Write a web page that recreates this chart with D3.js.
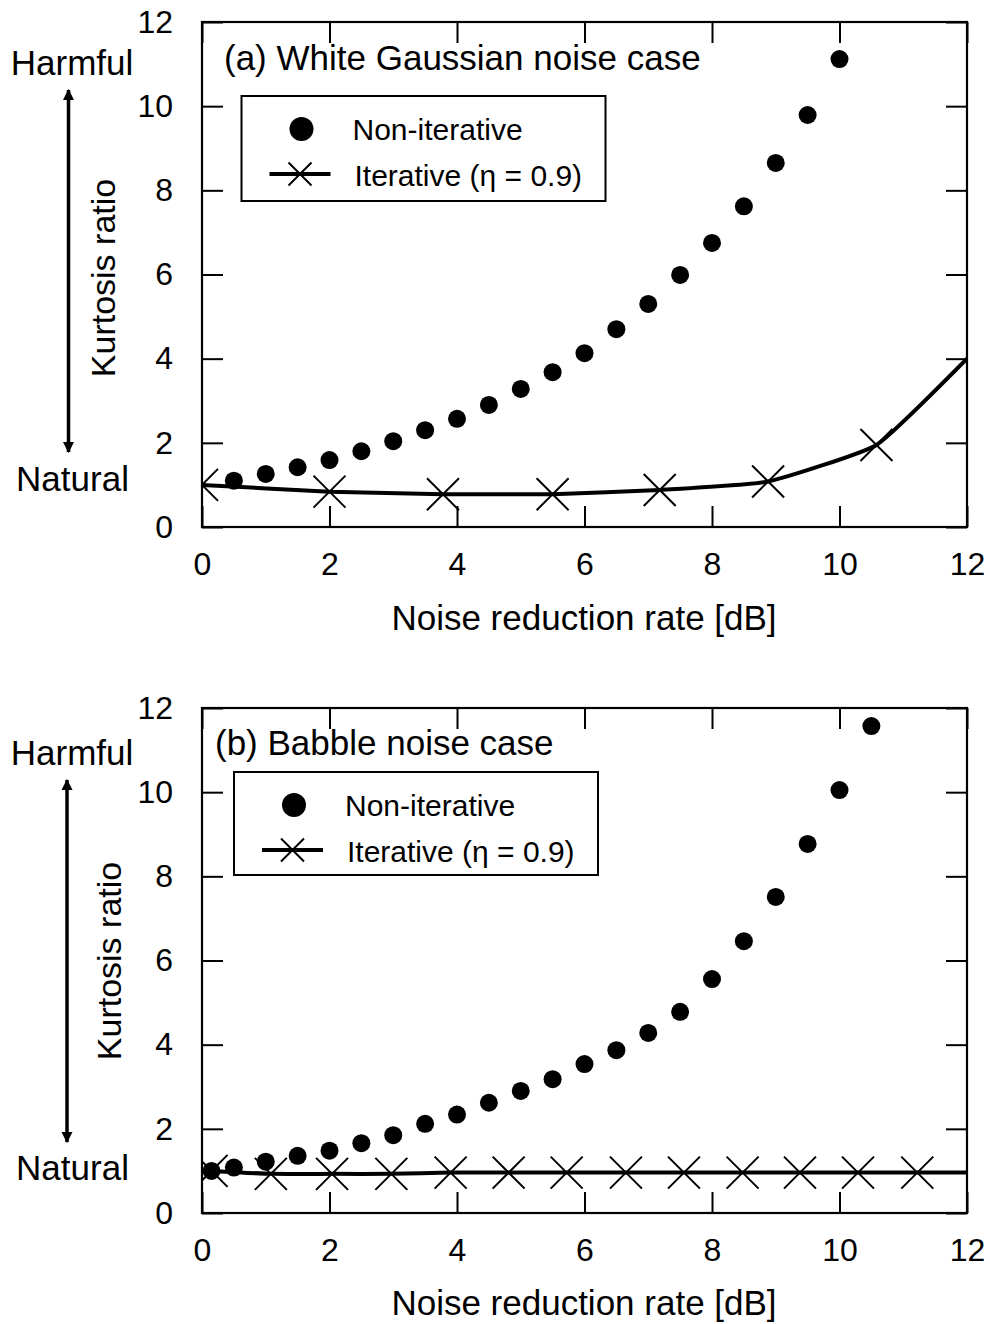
<!DOCTYPE html>
<html>
<head>
<meta charset="utf-8">
<script src="https://cdn.jsdelivr.net/npm/d3@7"></script>
<style>
  html, body { margin: 0; padding: 0; background: #fff; }
  svg text { font-family: "Liberation Sans", Arial, Helvetica, sans-serif; fill: #000; }
</style>
</head>
<body>
<svg id="chart" width="990" height="1324"></svg>
<script>
// ---------- data ----------
const xTicks = [0, 2, 4, 6, 8, 10, 12];
const yTicks = [0, 2, 4, 6, 8, 10, 12];
const xLabel = "Noise reduction rate [dB]";
const yLabel = "Kurtosis ratio";
const legendLabels = ["Non-iterative", "Iterative (\u03B7 = 0.9)"];

// Panel (a) White Gaussian noise
const titleA = "(a) White Gaussian noise case";
const nonIterXA = [0.5, 1, 1.5, 2, 2.5, 3, 3.5, 4, 4.5, 5, 5.5, 6, 6.5, 7, 7.5, 8, 8.5, 9, 9.5, 10];
const nonIterYA = [1.10, 1.26, 1.42, 1.59, 1.80, 2.04, 2.30, 2.57, 2.90, 3.28, 3.68, 4.13, 4.70, 5.30, 5.99, 6.75, 7.62, 8.65, 9.79, 11.12];
const iterXA = [0, 2, 3.78, 5.5, 7.18, 8.88, 10.58, 12];
const iterYA = [1.00, 0.84, 0.78, 0.78, 0.88, 1.08, 1.95, 4.00];

// Panel (b) Babble noise
const titleB = "(b) Babble noise case";
const nonIterXB = [0.15, 0.5, 1, 1.5, 2, 2.5, 3, 3.5, 4, 4.5, 5, 5.5, 6, 6.5, 7, 7.5, 8, 8.5, 9, 9.5, 10, 10.5];
const nonIterYB = [1.00, 1.08, 1.22, 1.36, 1.48, 1.66, 1.85, 2.12, 2.34, 2.62, 2.90, 3.18, 3.54, 3.87, 4.28, 4.78, 5.56, 6.46, 7.51, 8.77, 10.05, 11.57];
const iterXB = [0.15, 1.08, 2.04, 2.97, 3.9, 4.81, 5.72, 6.65, 7.56, 8.48, 9.38, 10.29, 11.22, 12];
const iterYB = [1.00, 0.93, 0.93, 0.93, 0.96, 0.96, 0.96, 0.96, 0.96, 0.96, 0.96, 0.96, 0.96, 0.96];

// ---------- drawing ----------
const svg = d3.select("#chart");
const defs = svg.append("defs");
defs.append("marker")
  .attr("id", "ah").attr("viewBox", "0 0 10 10")
  .attr("refX", 9).attr("refY", 5)
  .attr("markerWidth", 11).attr("markerHeight", 14)
  .attr("markerUnits", "userSpaceOnUse")
  .attr("orient", "auto-start-reverse")
  .append("path").attr("d", "M0,0 L10,5 L0,10 Z").attr("fill", "#000");

const L = 202, R = 967;

function xMark(g, cx, cy, h, w) {
  g.append("path")
    .attr("d", `M${cx-h},${cy-h}L${cx+h},${cy+h}M${cx-h},${cy+h}L${cx+h},${cy-h}`)
    .attr("stroke", "#000").attr("stroke-width", w).attr("fill", "none");
}

function panel(cfg) {
  const x = d3.scaleLinear().domain([0, 12]).range([L, R]);
  const y = d3.scaleLinear().domain([0, 12]).range([cfg.bottom, cfg.top]);
  const g = svg.append("g");
  const clipId = "clip" + cfg.id;
  defs.append("clipPath").attr("id", clipId)
    .append("rect").attr("x", L).attr("y", cfg.top).attr("width", R - L).attr("height", cfg.bottom - cfg.top);

  // axes (inward ticks on all sides)
  const tl = 21;
  const ax = [
    g.append("g").attr("transform", `translate(0,${cfg.bottom})`)
      .call(d3.axisBottom(x).tickValues(xTicks).tickSize(-tl).tickPadding(25).tickFormat(d3.format("d"))),
    g.append("g").attr("transform", `translate(0,${cfg.top})`)
      .call(d3.axisTop(x).tickValues(xTicks).tickSize(-tl).tickFormat("")),
    g.append("g").attr("transform", `translate(${L},0)`)
      .call(d3.axisLeft(y).tickValues(yTicks).tickSize(-tl).tickPadding(29).tickFormat(d3.format("d"))),
    g.append("g").attr("transform", `translate(${R},0)`)
      .call(d3.axisRight(y).tickValues(yTicks).tickSize(-tl).tickFormat(""))
  ];
  ax.forEach(a => {
    a.select(".domain").remove();
    a.selectAll(".tick line").attr("stroke", "#000").attr("stroke-width", 2);
    a.selectAll(".tick text").attr("font-size", 32).attr("font-family", '"Liberation Sans", Arial, sans-serif').attr("fill", "#000");
  });
  g.append("rect").attr("x", L).attr("y", cfg.top).attr("width", R - L).attr("height", cfg.bottom - cfg.top)
    .attr("fill", "none").attr("stroke", "#000").attr("stroke-width", 2.2);

  // title
  g.append("text").attr("x", cfg.titleX).attr("y", cfg.titleY).attr("font-size", 35).text(cfg.title);

  // data
  const plot = g.append("g").attr("clip-path", `url(#${clipId})`);
  const iter = cfg.iterX.map((v, i) => ({ x: v, y: cfg.iterY[i] }));
  const line = d3.line().x(d => x(d.x)).y(d => y(d.y)).curve(d3.curveCardinal.tension(0.6));
  plot.append("path").datum(iter).attr("d", line)
    .attr("fill", "none").attr("stroke", "#000").attr("stroke-width", 4);
  iter.filter(d => d.x < 12).forEach(d => xMark(plot, x(d.x), y(d.y), 16, 2));
  const non = cfg.nonX.map((v, i) => ({ x: v, y: cfg.nonY[i] }));
  plot.selectAll("circle.non").data(non).enter().append("circle")
    .attr("cx", d => x(d.x)).attr("cy", d => y(d.y)).attr("r", 9).attr("fill", "#000");

  // legend
  const lg = cfg.legend;
  g.append("rect").attr("x", lg.x).attr("y", lg.y).attr("width", lg.w).attr("height", lg.h)
    .attr("fill", "#fff").attr("stroke", "#000").attr("stroke-width", 2);
  g.append("circle").attr("cx", lg.x + 60).attr("cy", lg.y + 33).attr("r", 12).attr("fill", "#000");
  g.append("text").attr("x", lg.x + 111).attr("y", lg.y + 44).attr("font-size", 30).text(legendLabels[0]);
  g.append("line").attr("x1", lg.x + 28).attr("x2", lg.x + 89).attr("y1", lg.y + 78).attr("y2", lg.y + 78)
    .attr("stroke", "#000").attr("stroke-width", 4);
  xMark(g, lg.x + 58.5, lg.y + 78, 11.5, 2);
  g.append("text").attr("x", lg.x + 113).attr("y", lg.y + 90).attr("font-size", 30).text(legendLabels[1]);

  // x label
  g.append("text").attr("x", (L + R) / 2 - 0.5).attr("y", cfg.xLabelY).attr("text-anchor", "middle")
    .attr("font-size", 35).text(xLabel);
  // y label
  g.append("text").attr("transform", `translate(${cfg.yLabelX},${cfg.yLabelCY}) rotate(-90)`)
    .attr("text-anchor", "middle").attr("font-size", 34).text(yLabel);
  // Harmful / Natural with arrow
  g.append("text").attr("x", 72).attr("y", cfg.harmY).attr("text-anchor", "middle").attr("font-size", 35).text("Harmful");
  g.append("text").attr("x", 72.5).attr("y", cfg.natY).attr("text-anchor", "middle").attr("font-size", 35).text("Natural");
  g.append("line").attr("x1", cfg.arrowX).attr("x2", cfg.arrowX).attr("y1", cfg.arrowTop).attr("y2", cfg.arrowBot)
    .attr("stroke", "#000").attr("stroke-width", 3.5)
    .attr("marker-start", "url(#ah)").attr("marker-end", "url(#ah)");
}

panel({
  id: "A", top: 22, bottom: 527, title: titleA, titleX: 224, titleY: 70,
  nonX: nonIterXA, nonY: nonIterYA, iterX: iterXA, iterY: iterYA,
  legend: { x: 241.5, y: 96, w: 364, h: 105 },
  xLabelY: 630, yLabelX: 115, yLabelCY: 278,
  harmY: 75, natY: 491, arrowX: 68.5, arrowTop: 90, arrowBot: 452
});
panel({
  id: "B", top: 708, bottom: 1213, title: titleB, titleX: 215, titleY: 755,
  nonX: nonIterXB, nonY: nonIterYB, iterX: iterXB, iterY: iterYB,
  legend: { x: 234, y: 772, w: 364, h: 103 },
  xLabelY: 1315, yLabelX: 121, yLabelCY: 961,
  harmY: 765, natY: 1180, arrowX: 67, arrowTop: 780, arrowBot: 1142
});
</script>
</body>
</html>
